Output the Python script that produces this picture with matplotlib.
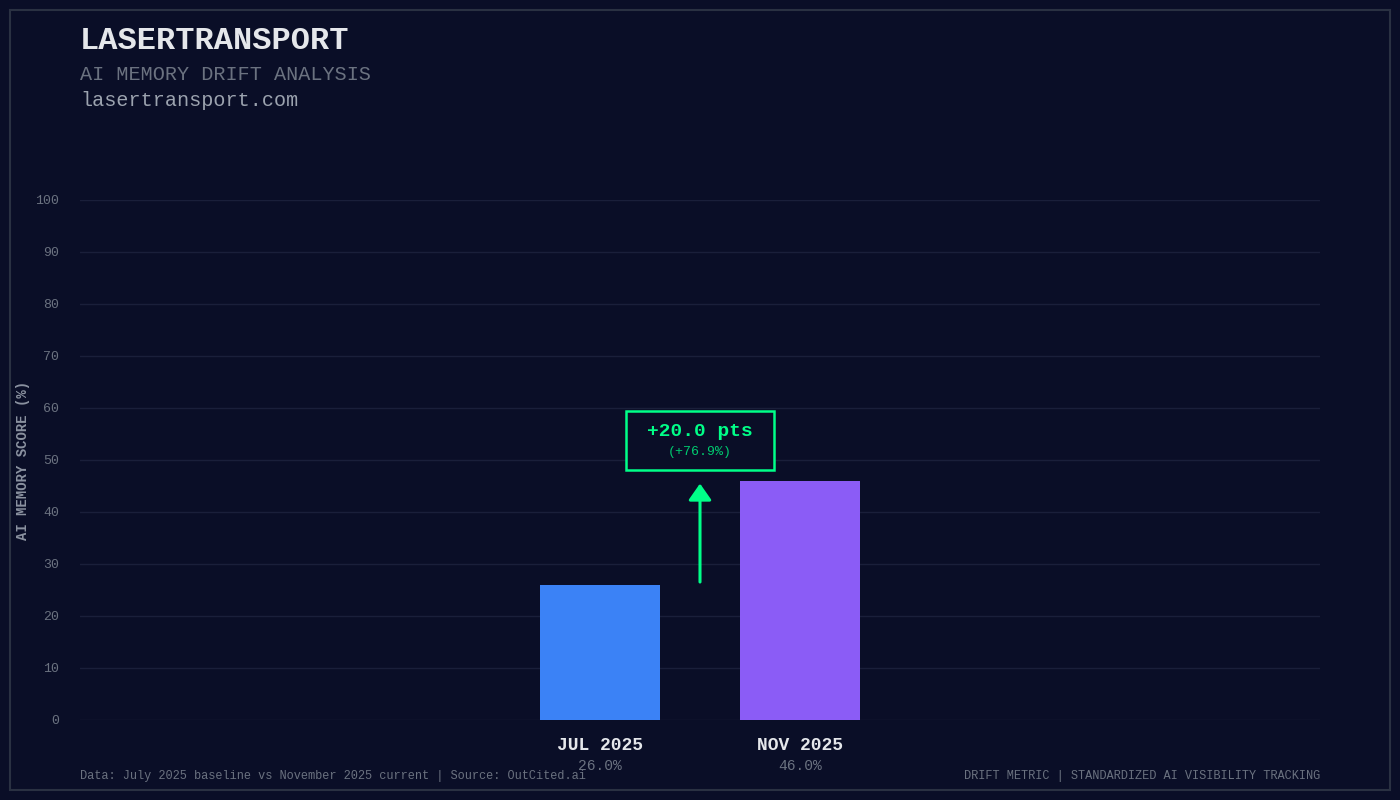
import matplotlib
matplotlib.use("Agg")
import matplotlib.pyplot as plt
from matplotlib.patches import Rectangle

categories = ["JUL 2025", "NOV 2025"]
scores = [26.0, 46.0]
colors = ["#3b82f6", "#8b5cf6"]
yticks = list(range(0, 101, 10))

BG = "#0a0e27"
MONO = ["Liberation Mono", "DejaVu Sans Mono"]
plt.rcParams["font.family"] = MONO

fig = plt.figure(figsize=(14, 8), dpi=100, facecolor=BG)
fig.patches.append(Rectangle((10 / 1400, 10 / 800), 1380 / 1400, 780 / 800,
                             transform=fig.transFigure, fill=False,
                             edgecolor="#2a3142", linewidth=1.5))

ax = fig.add_axes([80 / 1400, 0.1, 1240 / 1400, 0.65], facecolor=BG)
x = list(range(len(categories)))
ax.bar(x, scores, width=0.6, color=colors, zorder=3)
ax.set_xlim(-2.6, 3.6)
ax.set_ylim(0, 100)
ax.set_yticks(yticks)
ax.set_xticks([])
ax.tick_params(axis="y", colors="#6b7280", labelsize=9.5, length=0, pad=15)
ax.grid(axis="y", color="#1a1f3a", linewidth=1, zorder=0)
for s in ax.spines.values():
    s.set_visible(False)
ax.set_ylabel("AI MEMORY SCORE (%)", color="#8b92a0", fontsize=10,
              fontweight="bold", labelpad=4)

for xi, cat, v in zip(x, categories, scores):
    ax.text(xi, -4.9, cat, ha="center", va="center", color="#e5e7eb",
            fontsize=13, fontweight="bold")
    ax.text(xi, -8.8, f"{v:.1f}%", ha="center", va="center", color="#6b7280",
            fontsize=10.5)

# change arrow + box
diff = scores[1] - scores[0]
pct = diff / scores[0] * 100
ax.annotate("", xy=(0.5, scores[1]), xytext=(0.5, scores[0]),
            arrowprops=dict(arrowstyle="-|>,head_width=0.7,head_length=1.0",
                            color="#00ff88", lw=2.2))
ax.add_patch(Rectangle((0.13, 48.1), 0.74, 11.3, facecolor=BG,
                       edgecolor="#00ff88", linewidth=1.8, zorder=4))
ax.text(0.5, 55.5, f"+{diff:.1f} pts", ha="center", va="center",
        color="#00ff88", fontsize=14, fontweight="bold", zorder=5)
ax.text(0.5, 51.6, f"(+{pct:.1f}%)", ha="center", va="center",
        color="#00cc70", fontsize=9.5, zorder=5)

fig.text(80 / 1400, 1 - 41 / 800, "LASERTRANSPORT", color="#e5e7eb",
         fontsize=23, fontweight="bold", va="center")
fig.text(80 / 1400, 1 - 75 / 800, "AI MEMORY DRIFT ANALYSIS", color="#6b7280",
         fontsize=14.5, va="center")
fig.text(80 / 1400, 1 - 100 / 800, "lasertransport.com", color="#9ca3af",
         fontsize=14.5, va="center")
fig.text(80 / 1400, 1 - 776 / 800,
         "Data: July 2025 baseline vs November 2025 current | Source: OutCited.ai",
         color="#6b7280", fontsize=8.6, va="center")
fig.text(1320 / 1400, 1 - 776 / 800,
         "DRIFT METRIC | STANDARDIZED AI VISIBILITY TRACKING",
         color="#6b7280", fontsize=8.6, va="center", ha="right")

fig.savefig("out.png", dpi=100, facecolor=BG)
